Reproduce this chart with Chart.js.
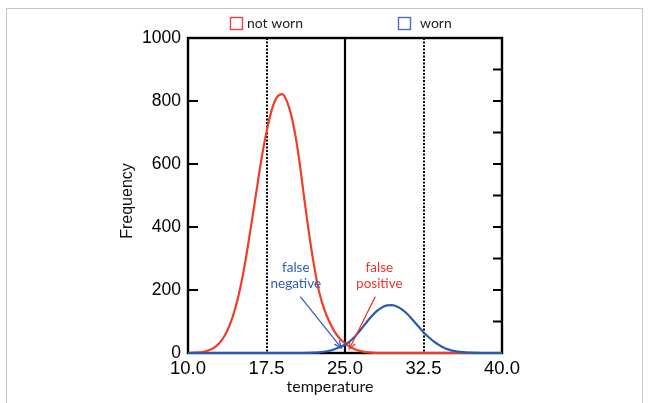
<!DOCTYPE html>
<html>
<head>
<meta charset="utf-8">
<script src="https://cdn.jsdelivr.net/npm/chart.js@4.4.0/dist/chart.umd.min.js"></script>
<style>
  html, body { margin: 0; padding: 0; background: #fff; }
  canvas { display: block; }
</style>
</head>
<body>
<canvas id="chart" width="649" height="403"></canvas>
<script>
// temperature distributions (step 0.5)
const temps = [10, 10.5, 11, 11.5, 12, 12.5, 13, 13.5, 14, 14.5, 15, 15.5, 16, 16.5, 17, 17.5, 18, 18.5, 19, 19.5,
  20, 20.5, 21, 21.5, 22, 22.5, 23, 23.5, 24, 24.5, 25, 25.5, 26, 26.5, 27, 27.5, 28, 28.5, 29, 29.5,
  30, 30.5, 31, 31.5, 32, 32.5, 33, 33.5, 34, 34.5, 35, 35.5, 36, 36.5, 37, 37.5, 38, 38.5, 39, 39.5, 40];

const notWorn = [0, 1, 2, 4, 9, 17, 32, 55, 90, 140, 208, 295, 398, 505, 612, 702, 772, 812, 822, 795,
  735, 642, 518, 394, 286, 198, 140, 100, 68, 46, 31, 19, 11, 6, 3, 1, 0, 0, 0, 0,
  0, 0, 0, 0, 0, 0, 0, 0, 0, 0, 0, 0, 0, 0, 0, 0, 0, 0, 0, 0, 0];

const worn = [0, 0, 0, 0, 0, 0, 0, 0, 0, 0, 0, 0, 0, 0, 0, 0, 0, 0, 0, 0,
  0, 0, 0, 0.5, 1, 2, 4, 7, 12, 18, 26, 38, 54, 74, 95, 115, 132, 144, 151, 152,
  147, 137, 122, 104, 85, 66, 50, 36, 25, 16, 10, 6, 3.5, 2, 1, 0.5, 0, 0, 0, 0, 0];

const xTicks = [10, 17.5, 25, 32.5, 40];
const yTicks = [0, 200, 400, 600, 800, 1000];
const rightTicks = [100, 200, 300, 400, 500, 600, 700, 800, 900];
const dottedCutoffs = [17.5, 32.5];
const solidCutoff = 25;

const RED = '#ee3e2a';
const BLUE = '#2a5aad';

// annotation text + arrows, in data units
const notes = [
  { lines: ['false', 'negative'], color: '#2f5cb4', at: [20.3, 270], from: [20.73, 179], to: [24.65, 16] },
  { lines: ['false', 'positive'], color: '#e8352c', at: [28.28, 270], from: [27.89, 179], to: [25.41, 13] }
];

const legendItems = [
  { label: 'not worn', color: '#e84444', box: 230.5, text: 247 },
  { label: 'worn', color: '#4b6fbd', box: 398.5, text: 420 }
];

function points(ys) {
  return temps.map((t, i) => ({ x: t, y: ys[i] }));
}

const framePlugin = {
  id: 'frame',
  beforeDraw(chart) {
    const ctx = chart.ctx;
    ctx.save();
    ctx.fillStyle = '#fff';
    ctx.fillRect(0, 0, chart.width, chart.height);
    ctx.strokeStyle = '#c4c4c4';
    ctx.lineWidth = 1;
    ctx.strokeRect(6.5, 8.5, 636, 420);
    ctx.restore();
  },
  beforeDatasetsDraw(chart) {
    const { ctx, chartArea: a, scales } = chart;
    const x = scales.x, y = scales.y;
    ctx.save();
    ctx.strokeStyle = '#000';

    // cutoff lines
    ctx.lineWidth = 2;
    ctx.setLineDash([2, 1.5]);
    dottedCutoffs.forEach((v) => {
      const px = Math.round(x.getPixelForValue(v));
      ctx.beginPath(); ctx.moveTo(px, a.top); ctx.lineTo(px, a.bottom); ctx.stroke();
    });
    ctx.setLineDash([]);
    ctx.lineWidth = 2.2;
    const sx = Math.round(x.getPixelForValue(solidCutoff));
    ctx.beginPath(); ctx.moveTo(sx, a.top); ctx.lineTo(sx, a.bottom); ctx.stroke();

    // box
    ctx.lineWidth = 2.4;
    ctx.strokeRect(a.left, a.top, a.right - a.left, a.bottom - a.top);

    // inward ticks
    ctx.lineWidth = 2;
    yTicks.forEach((v) => {
      const py = y.getPixelForValue(v);
      ctx.beginPath(); ctx.moveTo(a.left, py); ctx.lineTo(a.left + 10, py); ctx.stroke();
    });
    rightTicks.forEach((v) => {
      const py = y.getPixelForValue(v);
      ctx.beginPath(); ctx.moveTo(a.right - 9, py); ctx.lineTo(a.right, py); ctx.stroke();
    });
    ctx.restore();
  },
  afterDatasetsDraw(chart) {
    const { ctx, scales } = chart;
    const x = scales.x, y = scales.y;
    ctx.save();

    // annotations
    notes.forEach((n) => {
      ctx.fillStyle = n.color;
      ctx.font = '13.5px Lato';
      ctx.textAlign = 'center';
      ctx.textBaseline = 'middle';
      const cx = x.getPixelForValue(n.at[0]);
      const cy = y.getPixelForValue(n.at[1]);
      n.lines.forEach((l, i) => ctx.fillText(l, cx, cy + i * 16));

      const x0 = x.getPixelForValue(n.from[0]), y0 = y.getPixelForValue(n.from[1]);
      const x1 = x.getPixelForValue(n.to[0]), y1 = y.getPixelForValue(n.to[1]);
      ctx.strokeStyle = n.color;
      ctx.lineWidth = 1.2;
      ctx.beginPath(); ctx.moveTo(x0, y0); ctx.lineTo(x1, y1); ctx.stroke();
      const ang = Math.atan2(y1 - y0, x1 - x0);
      ctx.beginPath();
      ctx.moveTo(x1 - 8 * Math.cos(ang - 0.4), y1 - 8 * Math.sin(ang - 0.4));
      ctx.lineTo(x1, y1);
      ctx.lineTo(x1 - 8 * Math.cos(ang + 0.4), y1 - 8 * Math.sin(ang + 0.4));
      ctx.stroke();
    });

    // axis titles
    ctx.fillStyle = '#111';
    ctx.textAlign = 'center';
    ctx.textBaseline = 'middle';
    ctx.font = '16px Lato';
    ctx.fillText('temperature', 330, 387);
    ctx.save();
    ctx.translate(128, 201);
    ctx.rotate(-Math.PI / 2);
    ctx.font = '16px "Liberation Sans"';
    ctx.fillText('Frequency', 0, 0);
    ctx.restore();

    // legend
    ctx.textAlign = 'left';
    ctx.font = '14px Lato';
    legendItems.forEach((it) => {
      ctx.strokeStyle = it.color;
      ctx.lineWidth = 1.4;
      ctx.strokeRect(it.box, 17.5, 12, 12);
      ctx.fillStyle = '#222';
      ctx.fillText(it.label, it.text, 23);
    });
    ctx.restore();
  }
};

new Chart(document.getElementById('chart'), {
  type: 'line',
  data: {
    datasets: [
      { label: 'worn', data: points(worn), borderColor: BLUE, borderWidth: 2.2, pointRadius: 0, cubicInterpolationMode: 'monotone', clip: false },
      { label: 'not worn', data: points(notWorn), borderColor: RED, borderWidth: 2.2, pointRadius: 0, cubicInterpolationMode: 'monotone', clip: false }
    ]
  },
  options: {
    responsive: false,
    animation: false,
    events: [],
    layout: { padding: { top: 38, right: 147, left: 0, bottom: 0 } },
    plugins: { legend: { display: false }, tooltip: { enabled: false } },
    scales: {
      x: {
        type: 'linear',
        min: 10,
        max: 40,
        afterBuildTicks: (axis) => { axis.ticks = xTicks.map((v) => ({ value: v })); },
        afterFit: (s) => { s.height = 50; },
        grid: { display: false, drawTicks: false },
        border: { display: false },
        ticks: {
          autoSkip: false,
          maxRotation: 0,
          padding: 5,
          color: '#000',
          font: { family: 'Liberation Sans', size: 18.5 },
          callback: (v) => Number(v).toFixed(1)
        }
      },
      y: {
        min: 0,
        max: 1000,
        afterBuildTicks: (axis) => { axis.ticks = yTicks.map((v) => ({ value: v })); },
        afterFit: (s) => { s.width = 188; },
        grid: { display: false, drawTicks: false },
        border: { display: false },
        ticks: {
          padding: 7,
          color: '#000',
          font: { family: 'Liberation Sans', size: 17.5 },
          callback: (v) => String(v)
        }
      }
    }
  },
  plugins: [framePlugin]
});
</script>
</body>
</html>
